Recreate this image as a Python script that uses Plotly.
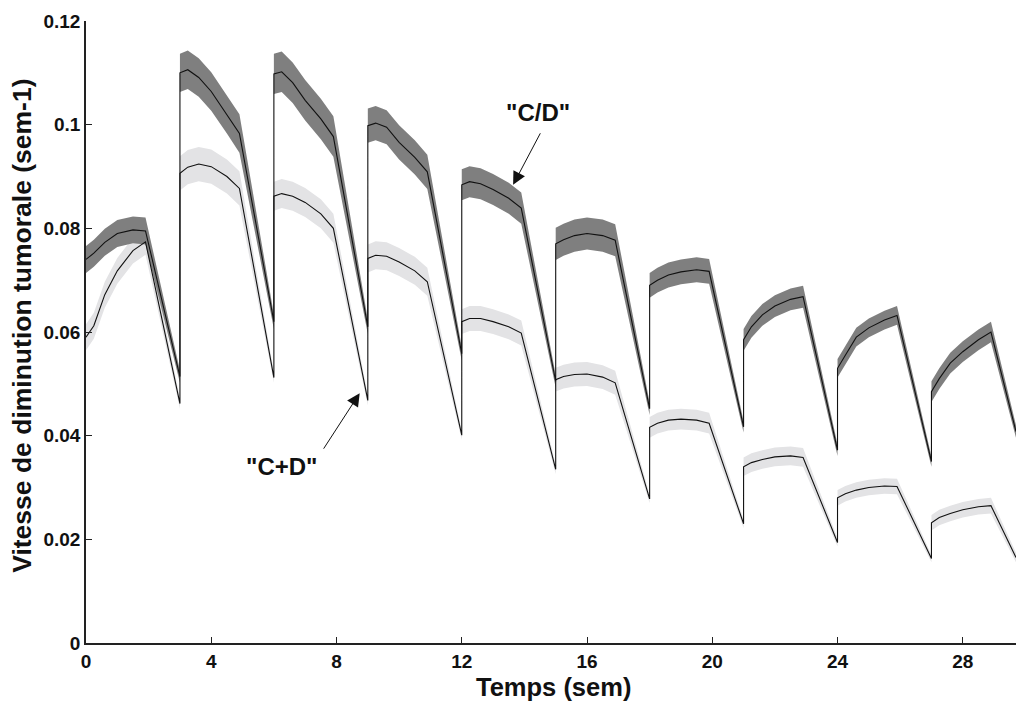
import plotly.graph_objects as go

# ---------------- data ----------------
CYCLE_START = [0, 3, 6, 9, 12, 15, 18, 21, 24, 27]          # weeks
PLATEAU_OFFSET = [0, 0.25, 0.6, 1.0, 1.5, 1.9]              # weeks after each dose
TROUGH_T = [3, 6, 9, 12, 15, 18, 21, 24, 27, 29.7]          # end of each cycle

# "C/D" schedule: mean tumour-shrinkage rate on each cycle's plateau
CD_PLATEAU = [
    [0.0740, 0.0752, 0.0773, 0.0790, 0.0797, 0.0795],
    [0.1100, 0.1106, 0.1091, 0.1064, 0.1020, 0.0983],
    [0.1098, 0.1102, 0.1081, 0.1047, 0.1011, 0.0977],
    [0.0998, 0.1003, 0.0995, 0.0966, 0.0937, 0.0909],
    [0.0884, 0.0890, 0.0886, 0.0875, 0.0858, 0.0839],
    [0.0770, 0.0778, 0.0786, 0.0790, 0.0786, 0.0777],
    [0.0690, 0.0700, 0.0710, 0.0716, 0.0720, 0.0717],
    [0.0585, 0.0610, 0.0633, 0.0650, 0.0663, 0.0668],
    [0.0530, 0.0555, 0.0590, 0.0608, 0.0623, 0.0632],
    [0.0485, 0.0510, 0.0540, 0.0562, 0.0585, 0.0600],
]
CD_TROUGH = [0.0514, 0.0620, 0.0610, 0.0558, 0.0505, 0.0452, 0.0417, 0.0372, 0.0350, 0.0408]
CD_HALF_WIDTH = [0.0026, 0.0037, 0.0039, 0.0033, 0.0030, 0.0031, 0.0024, 0.0021, 0.0018, 0.0020]
CD_TROUGH_HALF_WIDTH = [0.0012, 0.0014, 0.0014, 0.0013, 0.0012, 0.0012, 0.0011, 0.0011, 0.0010, 0.0012]

# "C+D" schedule
CPD_PLATEAU = [
    [0.0590, 0.0612, 0.0672, 0.0718, 0.0757, 0.0774],
    [0.0906, 0.0918, 0.0924, 0.0919, 0.0900, 0.0877],
    [0.0862, 0.0867, 0.0862, 0.0850, 0.0828, 0.0800],
    [0.0742, 0.0748, 0.0746, 0.0735, 0.0718, 0.0697],
    [0.0620, 0.0626, 0.0626, 0.0620, 0.0610, 0.0598],
    [0.0508, 0.0514, 0.0518, 0.0519, 0.0513, 0.0502],
    [0.0416, 0.0424, 0.0430, 0.0432, 0.0430, 0.0424],
    [0.0340, 0.0348, 0.0354, 0.0359, 0.0361, 0.0358],
    [0.0280, 0.0288, 0.0295, 0.0300, 0.0303, 0.0302],
    [0.0232, 0.0242, 0.0250, 0.0257, 0.0263, 0.0265],
]
CPD_TROUGH = [0.0462, 0.0512, 0.0468, 0.0401, 0.0335, 0.0278, 0.0230, 0.0194, 0.0163, 0.0165]
CPD_HALF_WIDTH = [0.0025, 0.0033, 0.0028, 0.0027, 0.0024, 0.0023, 0.0020, 0.0018, 0.0015, 0.0015]
CPD_TROUGH_HALF_WIDTH = [0.0010, 0.0010, 0.0010, 0.0009, 0.0009, 0.0008, 0.0008, 0.0008, 0.0007, 0.0009]

X_TICKS = [0, 4, 8, 12, 16, 20, 24, 28]
Y_TICKS = [0, 0.02, 0.04, 0.06, 0.08, 0.1, 0.12]
Y_TICK_TEXT = ["0", "0.02", "0.04", "0.06", "0.08", "0.1", "0.12"]

X_TITLE = "Temps (sem)"
Y_TITLE = "Vitesse de diminution tumorale (sem-1)"


def build(plateau, trough, half, trough_half):
    t, m, h = [], [], []
    for i, s in enumerate(CYCLE_START):
        for off, v in zip(PLATEAU_OFFSET, plateau[i]):
            t.append(s + off)
            m.append(v)
            h.append(half[i])
        t.append(TROUGH_T[i])
        m.append(trough[i])
        h.append(trough_half[i])
    lo = [a - b for a, b in zip(m, h)]
    hi = [a + b for a, b in zip(m, h)]
    return t, m, lo, hi


FONT = "Liberation Sans, Arial, Helvetica, sans-serif"

cd_t, cd_m, cd_lo, cd_hi = build(CD_PLATEAU, CD_TROUGH, CD_HALF_WIDTH, CD_TROUGH_HALF_WIDTH)
cp_t, cp_m, cp_lo, cp_hi = build(CPD_PLATEAU, CPD_TROUGH, CPD_HALF_WIDTH, CPD_TROUGH_HALF_WIDTH)

fig = go.Figure()

# light band for C+D
fig.add_trace(go.Scatter(
    x=cp_t + cp_t[::-1], y=cp_hi + cp_lo[::-1], fill="toself",
    fillcolor="#e3e3e5", line=dict(width=0), mode="lines",
    hoverinfo="skip", showlegend=False))
# dark band for C/D
fig.add_trace(go.Scatter(
    x=cd_t + cd_t[::-1], y=cd_hi + cd_lo[::-1], fill="toself",
    fillcolor="#7f7f7f", line=dict(width=0), mode="lines",
    hoverinfo="skip", showlegend=False))
# mean lines
fig.add_trace(go.Scatter(x=cp_t, y=cp_m, mode="lines",
                         line=dict(color="#111111", width=1.1),
                         name="C+D", showlegend=False))
fig.add_trace(go.Scatter(x=cd_t, y=cd_m, mode="lines",
                         line=dict(color="#111111", width=1.1),
                         name="C/D", showlegend=False))

axis_common = dict(
    showgrid=False, zeroline=False, showline=True, linecolor="#222222",
    linewidth=1.5, ticks="inside", ticklen=6, tickwidth=1, tickcolor="#222222",
    tickfont=dict(family=FONT, size=19, color="#111111", weight="bold"),
    mirror=False,
)

fig.update_layout(
    width=1016, height=704,
    margin=dict(l=86, r=0, t=21, b=61),
    paper_bgcolor="white", plot_bgcolor="white",
    xaxis=dict(range=[0, 29.7], tickvals=X_TICKS, ticktext=[str(v) for v in X_TICKS],
               automargin=False, **axis_common),
    yaxis=dict(range=[0, 0.12], tickvals=Y_TICKS, ticktext=Y_TICK_TEXT,
               automargin=False, **axis_common),
    showlegend=False,
)

ann_font = dict(family=FONT, size=24, color="#111111", weight="bold")
fig.add_annotation(x=0.503, y=0, xref="paper", yref="paper", yshift=-44,
                   text=X_TITLE, showarrow=False, xanchor="center", yanchor="middle",
                   font=dict(family=FONT, size=25.5, color="#111111", weight="bold"))
fig.add_annotation(x=0, y=0.51, xref="paper", yref="paper", xshift=-64,
                   text=Y_TITLE, showarrow=False, textangle=-90,
                   xanchor="center", yanchor="middle",
                   font=dict(family=FONT, size=26.5, color="#111111", weight="bold"))

# labels with arrows
fig.add_annotation(x=14.44, y=0.1023, text='"C/D"', showarrow=False, font=ann_font)
fig.add_annotation(x=13.64, y=0.0884, ax=28, ay=-53, text="", showarrow=True,
                   arrowhead=2, arrowsize=2.6, arrowwidth=1, arrowcolor="#111111", standoff=0)
fig.add_annotation(x=6.23, y=0.0340, text='"C+D"', showarrow=False, font=ann_font)
fig.add_annotation(x=8.74, y=0.0482, ax=-37, ay=57, text="", showarrow=True,
                   arrowhead=2, arrowsize=2.6, arrowwidth=1, arrowcolor="#111111", standoff=0)

fig.write_html("out.html")
